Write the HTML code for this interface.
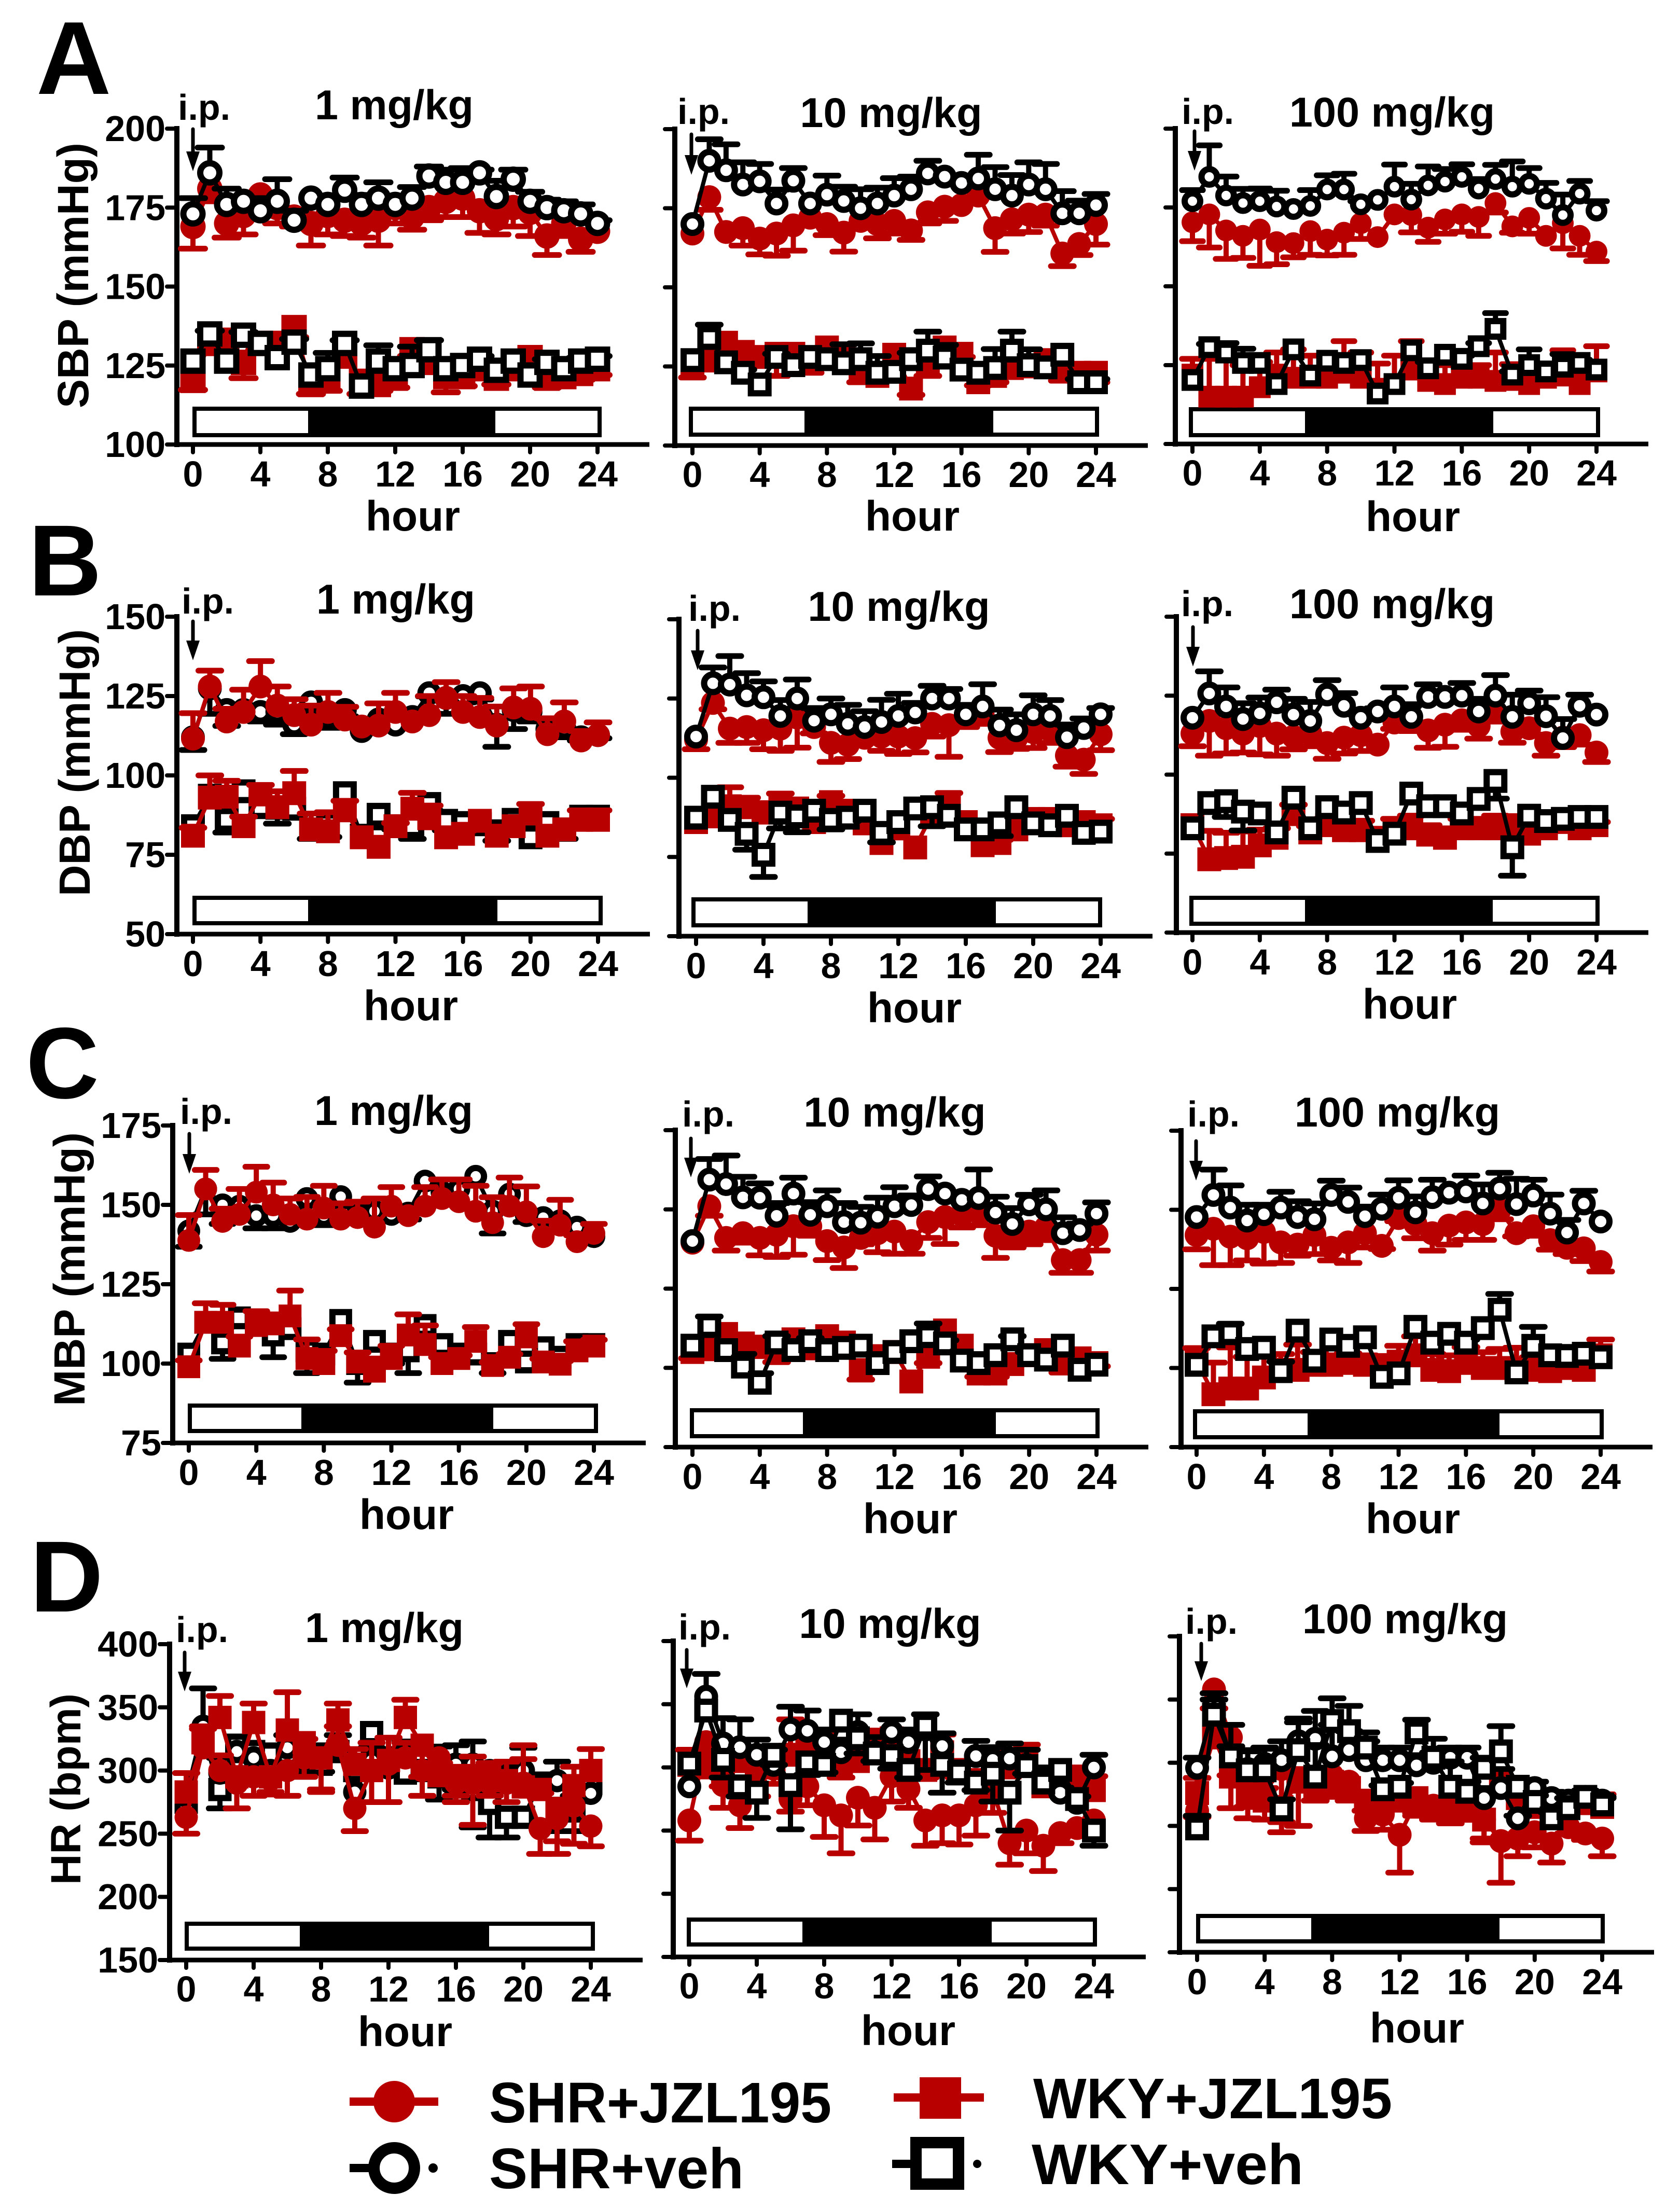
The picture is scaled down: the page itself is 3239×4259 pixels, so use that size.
<!DOCTYPE html>
<html lang="en">
<head>
<meta charset="utf-8">
<title>Blood pressure and heart rate after i.p. JZL195</title>
<style>
html,body{margin:0;padding:0;background:#fff;}
svg{display:block;}
text{font-family:"Liberation Sans",Arial,sans-serif;font-weight:bold;fill:#000;}
</style>
</head>
<body>
<svg id="figure" xmlns="http://www.w3.org/2000/svg" width="3239" height="4259" viewBox="0 0 3239 4259">
<rect x="0" y="0" width="3239" height="4259" fill="#fff"/>
<text x="70" y="181" font-size="200">A</text>
<text x="55" y="1148" font-size="195">B</text>
<text x="50" y="2117" font-size="195">C</text>
<text x="58" y="3107" font-size="195">D</text>
<text transform="translate(170,787) rotate(-90)" font-size="84" textLength="512" lengthAdjust="spacingAndGlyphs">SBP (mmHg)</text>
<text transform="translate(173,1728) rotate(-90)" font-size="84" textLength="515" lengthAdjust="spacingAndGlyphs">DBP (mmHg)</text>
<text transform="translate(163,2711) rotate(-90)" font-size="84" textLength="528" lengthAdjust="spacingAndGlyphs">MBP (mmHg)</text>
<text transform="translate(155,3634) rotate(-90)" font-size="82" textLength="369" lengthAdjust="spacingAndGlyphs">HR (bpm)</text>

<g>
  <g>
    <rect x="674" y="4044" width="171" height="16" fill="#b90000"/>
    <circle cx="760" cy="4052" r="40" fill="#b90000"/>
    <text x="943" y="4092" font-size="110" textLength="660" lengthAdjust="spacingAndGlyphs">SHR+JZL195</text>
  </g>
  <g>
    <rect x="674" y="4172" width="50" height="16" fill="#000"/>
    <circle cx="760" cy="4180" r="39" fill="#fff" stroke="#000" stroke-width="22"/>
    <circle cx="835" cy="4180" r="9" fill="#000"/>
    <text x="943" y="4219" font-size="110" textLength="491" lengthAdjust="spacingAndGlyphs">SHR+veh</text>
  </g>
  <g>
    <rect x="1723" y="4036" width="174" height="16" fill="#b90000"/>
    <rect x="1773" y="4005" width="80" height="80" fill="#b90000"/>
    <text x="1992" y="4084" font-size="110" textLength="692" lengthAdjust="spacingAndGlyphs">WKY+JZL195</text>
  </g>
  <g>
    <rect x="1720" y="4164" width="40" height="16" fill="#000"/>
    <rect x="1766" y="4131" width="82" height="80" fill="#fff" stroke="#000" stroke-width="22"/>
    <circle cx="1884" cy="4172" r="8" fill="#000"/>
    <text x="1989" y="4211" font-size="110" textLength="524" lengthAdjust="spacingAndGlyphs">WKY+veh</text>
  </g>
</g>
<g id="panels"></g>
</svg>

<script>
// ---- shared categories and tick labels ----
const hours = [0,1,2,3,4,5,6,7,8,9,10,11,12,13,14,15,16,17,18,19,20,21,22,23,24];
const hourTicks = [0,4,8,12,16,20,24];
const sbpTicks = [100,125,150,175,200];
const dbpTicks = [50,75,100,125,150];
const mbpTicks = [75,100,125,150,175];
const hrTicks = [150,200,250,300,350,400];
const lightOffHours = [7,18];

// ---- SBP 1 mg/kg (error values are signed: + up, - down) ----
const sbp1ShrJ = [169,181,170,172.5,179,175,172,170,172.5,171,170,171,175,172,175,177,178,174,171.5,175,173.5,166,170,165,167.5];
const sbp1ShrJErr = [-7,-4,-4.5,-6,-5,-5,-3,-7,-6,-5,-4.5,-8,-5,-4,-4,-5,-6,-7,-5,-6,-7.5,-6,-4,-4,0];
const sbp1WkyJ = [120.3,132,133,126,132,132,137,119,121,128,120,119,121,130,126,121.5,121.5,124,121,124,127.5,121,121.5,122.5,124];
const sbp1WkyJErr = [-3,0,0,-5,-2,-2,-3,-3,-4,0,-4,-2,-3,-2,-2,-5,-3,-1,-2,-2,-3,-3,-2,-2,-2];
const sbp1ShrV = [173,186,176,177,174,177,171,178,176,180.5,176,178,176,178,185,183,183,186,178.5,184,177,175,174,173,170];
const sbp1ShrVErr = [5,8,5,0,4,7,3,0,2.5,4,3,5,2,3.5,3,4,4.5,1,5,3,3,2.5,3,3,1];
const sbp1WkyV = [126.4,135,126.4,134.6,132,127.5,132.4,122,124,132,118.5,126.4,124,125,130,124,125,127,123.5,126.4,122,126,124,126.4,127];
const sbp1WkyVErr = [0,1,0,1,0,2,1,0,5,1,0,5,2,6,3,0,0,1,0,0,0,1,0,1,1];

// ---- SBP 10 mg/kg ----
const sbp10ShrJ = [167,178.5,167.5,168.7,165.4,167,169.6,172,170,167.3,171,170,171,168,173.7,175.5,176,179,168.7,171.5,173,173,160.7,163.7,170];
const sbp10ShrJErr = [0,-4,0,-5.5,-5,-7,-8,-2,-3.5,-6,0,-4.5,-4,-3,-3.5,-4.5,0,0,-7.5,-4.5,-5.5,-3.5,-4,-3.5,-6.5];
const sbp10WkyJ = [124.5,127,132.5,129.6,128,129,129,126,131,128.7,123,122,128.7,118,126,131,129,120,122,124.5,125,127,123.5,123,123];
const sbp10WkyJErr = [-3,-3,0,0,-2,-7,0,-3,0,0,-3,0,0,-2,-4,0,-1,-1,-2,-2,-1,0,-3,-1,-3];
const sbp10ShrV = [170,190,187,182.5,183.5,176.5,183.7,176.5,179.3,177.3,175,176.5,179,181,186,185,183,184.4,181,179,182.5,181,173.4,173.4,176];
const sbp10ShrVErr = [0,6.8,8.2,7,5.5,4.4,4,0,6,4.5,6,5,5.5,4,4,0,0,7.5,7,6.5,7,8,7,4,3.5];
const sbp10WkyV = [127,134,126.3,123,119.3,128,125.4,128,127.3,126,127.3,123,123.3,127.3,130,127.8,124,123,124.5,130,125.4,124.7,128.7,120,120];
const sbp10WkyVErr = [0,4.2,0,1,0,1,0,0,0,6,5,5.3,0,2,6,4,2,0,6,6,5,0,0,1,1];

// ---- SBP 100 mg/kg ----
const sbp100ShrJ = [170.3,172.8,167.7,166,168,164,163.7,167.5,164.8,167,170,165.6,172.8,172.6,168.6,171.2,172.8,172,176.4,169,171.7,166,170,166,161];
const sbp100ShrJErr = [-6,-10.5,-9,-7,-11.5,-7,-4.5,-7.5,-5,-7,-5,0,0,-5.5,-4.5,-4.5,-5.5,-6,-3,-2,-5,0,-8,-6,-3];
const sbp100WkyJ = [122,115,115,115,118,122,121,121,121,122.6,121,117.5,119,123.6,120,119,121,121,120,120.3,119,121,121.7,119,123];
const sbp100WkyJErr = [5,12,12,10,8,7,9,7,7,10,8,8,9,9,6,6,7,4,9,5,3,3,8,5,8];
const sbp100ShrV = [177,184.7,178.8,176.4,177,175.3,174.5,175.5,180.7,180.7,176,177.4,181.6,177.5,182,183.2,184.7,181,184,181.6,182.5,177.8,172.6,179.4,174];
const sbp100ShrVErr = [3.5,10,6,4.5,4,5,0,5,4.5,5,1,0,7,5,6,4,4,3,4.5,8,5,5,6.5,4,3];
const sbp100WkyV = [120.3,130.7,129,125.7,125.7,119,130,121.7,126.4,125.7,126.6,116,119,129.7,124,128.3,127,131,136.5,122,125,123,124.5,125.7,123.6];
const sbp100WkyVErr = [0,1,3,4.5,0,0,0,0,0,0,0,0,0,0,2,0,1,1,5,1,5,1,4,1,0];

// ---- DBP 1 mg/kg ----
const dbp1ShrJ = [111.6,128,117,120,128,122,119,116,120,117.6,115.4,115.7,120,117,119,124.4,120,118.4,115.7,121.4,121,113,117,111,112.7];
const dbp1ShrJErr = [8,5,4,7,8,6,5,6,6,4,0,7,6,0,6,5,5,6,6,6,7,5,6,3,4];
const dbp1WkyJ = [81,93,93.3,84,94,90,94.4,83,82.4,89,80.5,77.5,84,89.5,86.5,80.5,81.6,85.7,81,84,88,81,83,86,86];
const dbp1WkyJErr = [2.5,7,5,3,3,5,7,5,6,3,0,0,1,5,4,0,1,0,0,0,3,0,0,3,3];
const dbp1ShrV = [112,127.4,120.6,120.6,120,120,116,123,119,120.6,114,117.6,116,118.4,125.9,124.4,125,125.9,116,120.6,120,114.6,115,112,112.7];
const dbp1ShrVErr = [-4,-8,-5,0,-3,-4,-3,-3,-4,-2,0,-3,0,-1,-1,-5,-2,-2,-7,-6,-3,0,-3,-1,-1];
const dbp1WkyV = [84,93.6,86,95,90,89.8,89.5,83,84.6,94.4,81,87.6,84,84,91,85.7,85,84.6,82.4,86,80.5,85,83,87,87];
const dbp1WkyVErr = [0,0,-4,-2,0,-5,-2,-3,-4,0,0,-4,-1,-4,-2,-3,0,0,-3,0,0,0,-3,0,0];

// ---- DBP 10 mg/kg ----
const dbp10ShrJ = [112,123.6,115.5,116,115,115.5,119,116,111,110.4,112.6,113,113,112.5,117,116.6,120,120,112.6,112.6,114.4,115,107,105.7,113.7];
const dbp10ShrJErr = [-3,-2,-4.5,-5,-6,-7,-9.5,-2,-6,-4.5,0,-4.5,-5.5,-4.5,-4,-10,-4,-3,-4.5,-3.5,-5,-4,-3.5,-4.5,-5];
const dbp10WkyJ = [86,87.8,91,90.7,89,92,90.3,86,92.3,89.6,85.6,79.4,84,78,88.5,92.2,86,78.7,79.4,83.7,87,87,85,86,85];
const dbp10WkyJErr = [0,0,6,3,3,3,0,0,2,2,0,0,0,0,0,3,0,0,1,0,0,2,1,0,2];
const dbp10ShrV = [113,129.8,129.4,126,125.4,119.5,125,118,120,117,116,117.6,119.5,120.6,125,125,120,122.5,116.5,115,120,119.5,112.8,115.7,120];
const dbp10ShrVErr = [0,5,9,7,5,5,6,4,5,6,5,7,7,3,4,3,3,7,5,5,6,5,4,3,2];
const dbp10WkyV = [87.4,94,86.7,82.3,75.7,89,87.8,89.6,86.7,87.4,89.6,82.6,86,90.3,90.7,88,83.7,83.7,85.6,90.7,85.6,85,88,82.6,83];
const dbp10WkyVErr = [0,0,0,-5,-7,-5,-5,0,-3,-1,0,-3,0,0,-6,0,0,0,-4,0,0,0,0,0,0];

// ---- DBP 100 mg/kg ----
const dbp100ShrJ = [113,117,114.7,113,115.4,113,112,113,110,111.7,112.5,109.5,116.5,116.8,114,115.8,117.2,115.4,119.8,113.6,114.7,110,111.7,112.5,107];
const dbp100ShrJErr = [-4,-11,-8,-6,-9,-7,-4,-4,-5,-5,-5,0,-2,-3,-5.5,-7,-3,-4,-3,-3.5,-2,-4,-3,-3,-3];
const dbp100WkyJ = [84,73.2,73.6,74,77.6,80,87.5,81.7,84,82.4,82.4,80,83,83,81,80,83,83,83,84,81.3,83,85,83,84];
const dbp100WkyJErr = [0,9,8,8,5,3,3,2,2,2,3,2,3,4,3,3,3,3,4,2,1,1,1,1,1];
const dbp100ShrV = [118,125.7,121.6,117.6,119.4,122.9,119,117,125.4,121.8,118,120,121.6,118.3,124.6,124.6,125,120,125,118.3,122.6,118.5,111.6,121.8,119];
const dbp100ShrVErr = [0,7,6,5,5,4,5,6,4.5,4,1,1,6,4,4,1,4,4,6.5,7,4,6,6,3.5,0];
const dbp100WkyV = [83,91,91.6,88.3,87.7,81.7,92.7,83,89.7,88,91,79,81.3,94,90,90,87.7,92.3,98,77,87,85.3,86,86.6,86.6];
const dbp100WkyVErr = [0,0,-5,-6,0,0,0,0,0,0,0,0,0,0,0,0,0,0,-5.6,-9,0,0,0,0,0];

// ---- MBP 1 mg/kg ----
const mbp1ShrJ = [138.8,155,144.8,147,154,150,147,145.5,149,145.5,146,143,149.6,146.6,149.6,152,151,148,144.4,149.6,147.8,140,143.6,138.4,141];
const mbp1ShrJErr = [8,6,4,8,8,7,5,7,7,5,5,9,6,2,6,6,7,8,8,9,8,5,8,2,3];
const mbp1WkyJ = [99,113,113,105.5,112,112.5,115,101.6,100,108.8,100.5,97.6,101.6,109,106,100,101.6,107,99.4,102,108.4,100.5,99.8,104,105.5];
const mbp1WkyJErr = [2,6,5.5,3,4.5,3,8,6,4,2,3,4,4,6.5,6,2,1,4.5,1,1,4,1,1,3,2];
const mbp1ShrV = [141.8,155,150,149.6,146.6,146.6,144.8,152,146.6,152.6,147.4,148,147,147.4,157.5,154,155,159,148,153.4,146.6,146,145,143,140];
const mbp1ShrVErr = [-5,-8,-6,-1,-4,-4,0,-5,-3,-3,-3,-1,0,-2,0,0,0,0,-7,0,-2,0,-3,0,0];
const mbp1WkyV = [103,113,106.5,114.4,112,109,111,104,103,113.6,100,107,103,104,112,106,103,103,100,107,100.5,105,102,106,106];
const mbp1WkyVErr = [0,0,-5,0,0,-7,0,-7,0,0,-6,0,-3,-7,0,0,-2,0,-3,0,0,0,0,0,0];

// ---- MBP 10 mg/kg ----
const mbp10ShrJ = [139.5,151,141,142.5,141,142,144.7,144.7,140,138,141,142.5,143,140,146,147.6,148.3,149,141.7,141,143,144.3,134,134,142];
const mbp10ShrJErr = [0,-3,-4,-3,-5.5,-7,-9,-3,-6,-6.5,-2,-6,-7,-4,-5,-8.5,-4,-4,-7,-3,-4,-4,-4,-4,-5];
const mbp10WkyJ = [105,106,110.7,107.7,106.7,104.8,109,106.3,110,108,99.3,103.7,105,95.7,103.5,111.8,107,98.2,98.2,101.2,104,105.6,101.5,103,101.5];
const mbp10WkyJErr = [-2,-3,0,0,-3,-3,0,-3,0,-2,-3,0,0,0,-2,0,0,-1,-1,0,0,0,-3,-1,-1];
const mbp10ShrV = [140,159.4,158,153.8,153.7,148,155,148.3,151,146,145.8,147.7,151,151.4,156.4,155,153,153.6,149,145.4,151.6,150,142.5,143.5,148.7];
const mbp10ShrVErr = [0,6.5,9,6.5,4.5,4,5,4,5,6,5,6,6,3,4,0,0,9,5,5,3,6,5,2,3.5];
const mbp10WkyV = [107,113.2,105.6,100.4,95.3,108,105.6,108.4,105.6,106.3,107,101.5,105,108.4,110,107.7,102.3,101.5,104,109,104,102.6,107,99.4,101];
const mbp10WkyVErr = [0,3,0,4,3,2,0,1,0,2,0,0,0,0,4,1,0,0,0,1,1,0,0,0,0];

// ---- MBP 100 mg/kg ----
const mbp100ShrJ = [142,144,141.5,141,143,139.7,139,142,138,139.7,142.6,138.6,147.4,145.5,142.6,145,146,145.5,150,142.6,144.8,140.4,138,137.8,133.5];
const mbp100ShrJErr = [-4.5,-11.5,-9,-7,-10,-6.5,-3.5,-6,-4,-6.5,-4.5,-1,-1,-4.5,-5.5,-6,-5.5,-5,-3,-1,-3,-3,-2,-4,-3];
const mbp100WkyJ = [102.3,91.7,93.5,93.5,97,99.4,99.4,101,101,101.6,101,100.8,102,104,99.4,99,101.6,100,100,99.4,99.4,99,100,99.4,104];
const mbp100WkyJErr = [4,10,13,10,7,5,8,4,3,3,3,3,5,6,5,5,5,5,6,7,4,3,6,4,5];
const mbp100ShrV = [147.7,154.7,150.7,146.6,148.6,150.7,147.7,147,154.7,152.5,148,150.3,153.8,149.2,154,155.4,155.8,152,156.7,151.8,154.5,148.8,142.8,152,146.3];
const mbp100ShrVErr = [0,8,7,5,3,5,5,5,4.5,4.5,3,4.5,5.5,5,5.5,1,5,6,5,8,5,6,4,4,0];
const mbp100WkyV = [101,110,111,106,106.4,99,111.8,102.3,109,107,109.7,97.2,98.3,113,108,110.8,108,112.6,118.4,98.6,107,104,103.8,104.5,103.4];
const mbp100WkyVErr = [0,0,3,2,0,3,0,0,0,0,0,0,0,0,0,0,1,0,5,0,6,0,0,0,0];

// ---- HR 1 mg/kg ----
const hr1ShrJ = [263,318,300,290,295,293,300,310,310,320,270,300,305,310,300,310,290,290,290,290,290,254,262,272,256];
const hr1ShrJErr = [-13,15,12,-20,-15,-12,-20,15,-25,15,-18,-25,-30,12,-20,-15,-15,-33,-10,-15,30,-20,-28,-30,-16];
const hr1WkyJ = [283,322,342,295,338,295,332,322,310,340,305,300,308,342,320,296,296,296,296,292,287,285,270,288,300];
const hr1WkyJErr = [15,13,17,-25,15,-12,30,-27,-27,13,12,22,18,14,-25,10,-16,15,10,15,22,-3,-26,15,17];
const hr1ShrV = [280,335,298,315,310,300,318,305,312,318,283,308,302,315,300,297,305,305,300,295,300,288,292,275,282];
const hr1ShrVErr = [0,30,12,0,-8,-5,10,20,8,10,0,10,8,8,5,22,15,18,5,10,18,8,15,5,0];
const hr1WkyV = [275,327,285,320,315,313,313,302,305,315,300,330,310,298,300,295,290,285,274,263,263,290,270,268,290];
const hr1WkyVErr = [0,0,-15,0,0,-5,-8,0,-6,0,0,0,0,0,-5,-18,-5,-30,-27,-16,0,-5,-18,-16,0];

// ---- HR 10 mg/kg ----
const hr10ShrJ = [258,320,286,270,285,299,275,285,270,262,276,268,293,283,258,262,262,270,282,240,250,238,248,252,258];
const hr10ShrJErr = [-16,-10,-18,-18,-8,-12,-10,-15,-25,-30,-22,-25,-20,-15,-20,-22,-23,-24,-18,-17,-18,-20,-8,-5,0];
const hr10WkyJ = [302,300,295,305,300,300,310,322,320,300,305,322,323,305,298,312,298,290,290,300,310,285,285,292,282];
const hr10WkyJErr = [12,12,-10,10,12,14,28,5,-8,-8,6,-6,4,-6,-6,14,-6,-8,-12,14,8,12,-6,8,11];
const hr10ShrV = [285,356,319,316,310,302,330,329,320,312,328,312,328,320,330,317,296,309,306,307,302,292,280,272,300];
const hr10ShrVErr = [0,18,20,22,12,12,18,16,10,10,14,12,10,10,12,10,8,12,10,12,12,8,4,5,10];
const hr10WkyV = [303,345,306,285,280,310,286,304,302,337,323,311,309,298,333,302,296,288,295,280,301,288,298,275,250];
const hr10WkyVErr = [0,0,-14,-8,-20,-8,-35,-10,-6,0,-12,-6,-10,-6,-35,-22,-8,-6,-22,-30,-6,0,0,0,-12];

// ---- HR 100 mg/kg ----
const hr100ShrJ = [262,358,320,285,290,295,285,285,290,285,256,259,243,270,266,270,265,255,238,240,245,236,249,244,240];
const hr100ShrJErr = [-5,-15,-30,-20,-10,-50,-35,-15,-15,-12,-10,-12,-30,-12,-10,-12,-10,-18,-33,-14,-12,-15,-5,-5,-14];
const hr100WkyJ = [276,320,289,276,270,265,285,280,285,280,270,268,270,272,265,260,262,255,285,272,265,262,265,268,265];
const hr100WkyJErr = [12,0,-25,-20,-15,-12,10,-10,-12,-10,-8,-5,5,-12,-10,-8,-5,-15,-8,0,-5,-3,-3,5,10];
const hr100ShrV = [296,345,305,295,299,302,317,319,305,310,302,302,302,298,300,304,304,272,280,256,280,272,270,273,270];
const hr100ShrVErr = [8,10,8,15,12,15,18,22,25,15,15,10,10,8,8,8,8,8,15,2,5,5,5,3,3];
const hr100WkyV = [248,338,305,294,294,263,310,289,333,325,312,279,281,324,304,281,277,296,309,281,269,256,264,273,267];
const hr100WkyVErr = [10,12,25,15,18,8,22,25,18,20,12,3,3,10,15,20,8,8,20,5,5,5,8,5,5];

// ---- layout (pixel geometry of each panel, separate from the data) ----
const redFirst = ['wkyJ','shrJ','shrV','wkyV'];
const blackFirst = ['wkyV','shrV','shrJ','wkyJ'];
const layouts = [
 {id:'sbp-1',dose:'1 mg/kg',ticks:sbpTicks,labels:true,spine:341,x0:372,x24:1152,top:248,bot:857,titleX:760,titleY:230,ipX:343,ipY:231,arrowX:372,arrowY:[249,330],bar:[371,1160,784,843],dark:[594,955],hourX:796,hourY:1023,tickY:938,m:49,order:redFirst,
  d:{shrJ:[sbp1ShrJ,sbp1ShrJErr],wkyJ:[sbp1WkyJ,sbp1WkyJErr],shrV:[sbp1ShrV,sbp1ShrVErr],wkyV:[sbp1WkyV,sbp1WkyVErr]}},
 {id:'sbp-10',dose:'10 mg/kg',ticks:sbpTicks,labels:false,spine:1301,x0:1335,x24:2113,top:249,bot:859,titleX:1718,titleY:245,ipX:1306,ipY:239,arrowX:1333,arrowY:[259,337],bar:[1328,2119,784,842],dark:[1551,1915],hourX:1759,hourY:1023,tickY:939,m:46,order:redFirst,
  d:{shrJ:[sbp10ShrJ,sbp10ShrJErr],wkyJ:[sbp10WkyJ,sbp10WkyJErr],shrV:[sbp10ShrV,sbp10ShrVErr],wkyV:[sbp10WkyV,sbp10WkyVErr]}},
 {id:'sbp-100',dose:'100 mg/kg',ticks:sbpTicks,labels:false,spine:2266,x0:2299,x24:3078,top:248,bot:856,titleX:2684,titleY:244,ipX:2278,ipY:239,arrowX:2303,arrowY:[253,329],bar:[2292,3085,785,843],dark:[2516,2879],hourX:2724,hourY:1024,tickY:936,m:42,order:redFirst,
  d:{shrJ:[sbp100ShrJ,sbp100ShrJErr],wkyJ:[sbp100WkyJ,sbp100WkyJErr],shrV:[sbp100ShrV,sbp100ShrVErr],wkyV:[sbp100WkyV,sbp100WkyVErr]}},
 {id:'dbp-1',dose:'1 mg/kg',ticks:dbpTicks,labels:true,spine:341,x0:372,x24:1153,top:1189,bot:1801,titleX:763,titleY:1183,ipX:350,ipY:1183,arrowX:372,arrowY:[1198,1273],bar:[371,1162,1727,1784],dark:[594,959],hourX:792,hourY:1967,tickY:1882,m:46,order:blackFirst,
  d:{shrJ:[dbp1ShrJ,dbp1ShrJErr],wkyJ:[dbp1WkyJ,dbp1WkyJErr],shrV:[dbp1ShrV,dbp1ShrVErr],wkyV:[dbp1WkyV,dbp1WkyVErr]}},
 {id:'dbp-10',dose:'10 mg/kg',ticks:dbpTicks,labels:false,spine:1309,x0:1342,x24:2122,top:1194,bot:1805,titleX:1733,titleY:1197,ipX:1327,ipY:1197,arrowX:1345,arrowY:[1216,1292],bar:[1333,2125,1730,1788],dark:[1557,1920],hourX:1763,hourY:1971,tickY:1886,m:46,order:redFirst,
  d:{shrJ:[dbp10ShrJ,dbp10ShrJErr],wkyJ:[dbp10WkyJ,dbp10WkyJErr],shrV:[dbp10ShrV,dbp10ShrVErr],wkyV:[dbp10WkyV,dbp10WkyVErr]}},
 {id:'dbp-100',dose:'100 mg/kg',ticks:dbpTicks,labels:false,spine:2268,x0:2299,x24:3078,top:1189,bot:1798,titleX:2684,titleY:1192,ipX:2277,ipY:1188,arrowX:2300,arrowY:[1209,1285],bar:[2293,3084,1727,1785],dark:[2516,2878],hourX:2718,hourY:1964,tickY:1879,m:46,order:redFirst,
  d:{shrJ:[dbp100ShrJ,dbp100ShrJErr],wkyJ:[dbp100WkyJ,dbp100WkyJErr],shrV:[dbp100ShrV,dbp100ShrVErr],wkyV:[dbp100WkyV,dbp100WkyVErr]}},
 {id:'mbp-1',dose:'1 mg/kg',ticks:mbpTicks,labels:true,spine:333,x0:364,x24:1145,top:2170,bot:2782,titleX:759,titleY:2169,ipX:347,ipY:2167,arrowX:365,arrowY:[2186,2263],bar:[362,1153,2706,2763],dark:[581,951],hourX:784,hourY:2948,tickY:2863,m:44,order:blackFirst,
  d:{shrJ:[mbp1ShrJ,mbp1ShrJErr],wkyJ:[mbp1WkyJ,mbp1WkyJErr],shrV:[mbp1ShrV,mbp1ShrVErr],wkyV:[mbp1WkyV,mbp1WkyVErr]}},
 {id:'mbp-10',dose:'10 mg/kg',ticks:mbpTicks,labels:false,spine:1302,x0:1335,x24:2114,top:2179,bot:2790,titleX:1725,titleY:2172,ipX:1315,ipY:2172,arrowX:1332,arrowY:[2195,2270],bar:[1330,2120,2715,2773],dark:[1548,1920],hourX:1755,hourY:2956,tickY:2871,m:46,order:redFirst,
  d:{shrJ:[mbp10ShrJ,mbp10ShrJErr],wkyJ:[mbp10WkyJ,mbp10WkyJErr],shrV:[mbp10ShrV,mbp10ShrVErr],wkyV:[mbp10WkyV,mbp10WkyVErr]}},
 {id:'mbp-100',dose:'100 mg/kg',ticks:mbpTicks,labels:false,spine:2277,x0:2307,x24:3086,top:2180,bot:2790,titleX:2694,titleY:2172,ipX:2289,ipY:2172,arrowX:2306,arrowY:[2200,2276],bar:[2300,3092,2717,2775],dark:[2521,2891],hourX:2724,hourY:2956,tickY:2871,m:46,order:redFirst,
  d:{shrJ:[mbp100ShrJ,mbp100ShrJErr],wkyJ:[mbp100WkyJ,mbp100WkyJErr],shrV:[mbp100ShrV,mbp100ShrVErr],wkyV:[mbp100WkyV,mbp100WkyVErr]}},
 {id:'hr-1',dose:'1 mg/kg',ticks:hrTicks,labels:true,spine:327,x0:359,x24:1139,top:3170,bot:3779,titleX:741,titleY:3166,ipX:339,ipY:3166,arrowX:356,arrowY:[3186,3261],bar:[356,1147,3705,3761],dark:[578,943],hourX:781,hourY:3945,tickY:3859,m:45,order:blackFirst,
  d:{shrJ:[hr1ShrJ,hr1ShrJErr],wkyJ:[hr1WkyJ,hr1WkyJErr],shrV:[hr1ShrV,hr1ShrVErr],wkyV:[hr1WkyV,hr1WkyVErr]}},
 {id:'hr-10',dose:'10 mg/kg',ticks:hrTicks,labels:false,spine:1298,x0:1329,x24:2109,top:3164,bot:3773,titleX:1716,titleY:3158,ipX:1308,ipY:3161,arrowX:1324,arrowY:[3181,3255],bar:[1324,2115,3697,3753],dark:[1547,1912],hourX:1751,hourY:3943,tickY:3853,m:46,order:redFirst,
  d:{shrJ:[hr10ShrJ,hr10ShrJErr],wkyJ:[hr10WkyJ,hr10WkyJErr],shrV:[hr10ShrV,hr10ShrVErr],wkyV:[hr10WkyV,hr10WkyVErr]}},
 {id:'hr-100',dose:'100 mg/kg',ticks:hrTicks,labels:false,spine:2274,x0:2308,x24:3089,top:3155,bot:3764,titleX:2709,titleY:3149,ipX:2285,ipY:3150,arrowX:2316,arrowY:[3169,3241],bar:[2306,3094,3690,3747],dark:[2528,2891],hourX:2732,hourY:3938,tickY:3845,m:46,order:redFirst,
  d:{shrJ:[hr100ShrJ,hr100ShrJErr],wkyJ:[hr100WkyJ,hr100WkyJErr],shrV:[hr100ShrV,hr100ShrVErr],wkyV:[hr100WkyV,hr100WkyVErr]}}
];

const RED = '#b90000';
const MARK_STROKE = 12;
const seriesStyle = {
  shrJ:{color:RED,shape:'circle',filled:true,label:'shr-jzl195'},
  wkyJ:{color:RED,shape:'square',filled:true,label:'wky-jzl195'},
  shrV:{color:'#000',shape:'circle',filled:false,label:'shr-veh'},
  wkyV:{color:'#000',shape:'square',filled:false,label:'wky-veh'}
};

const NS = 'http://www.w3.org/2000/svg';
function svgEl(tag, attrs, parent, text) {
  const el = document.createElementNS(NS, tag);
  for (const k in attrs) el.setAttribute(k, attrs[k]);
  if (text !== undefined) el.textContent = text;
  parent.appendChild(el);
  return el;
}

const root = document.getElementById('panels');

layouts.forEach(function (p) {
  const minV = p.ticks[0];
  const maxV = p.ticks[p.ticks.length - 1];
  const xScale = function (h) { return p.x0 + (h / 24) * (p.x24 - p.x0); };
  const yScale = function (v) { return p.bot - (v - minV) / (maxV - minV) * (p.bot - p.top); };
  const hourToBar = function (h) { return h === lightOffHours[0] ? p.dark[0] : p.dark[1]; };

  const g = svgEl('g', {}, root);
  
  

  // light/dark bar
  const barOuter = svgEl('rect', {x:p.bar[0]+4,y:p.bar[2]+4,width:p.bar[1]-p.bar[0]-8,height:p.bar[3]-p.bar[2]-8,fill:'#fff',stroke:'#000','stroke-width':8}, g);
  
  
  const barDark = svgEl('rect', {x:hourToBar(7),y:p.bar[2],width:hourToBar(18)-hourToBar(7),height:p.bar[3]-p.bar[2],fill:'#000'}, g);
  
  

  // axes
  const yAxis = svgEl('line', {x1:p.spine,x2:p.spine,y1:p.top-5,y2:p.bot+5,stroke:'#000','stroke-width':10}, g);
  
  
  const xAxis = svgEl('line', {x1:p.spine-5,x2:p.x24+100,y1:p.bot,y2:p.bot,stroke:'#000','stroke-width':9}, g);
  
  

  p.ticks.forEach(function (t) {
    const y = yScale(t);
    const tick = svgEl('line', {x1:p.spine-19,x2:p.spine,y1:y,y2:y,stroke:'#000','stroke-width':8,'stroke-linecap':'round'}, g);
    
    
    if (p.labels) {
      const lab = svgEl('text', {x:p.spine-22,y:y+24,'font-size':70,'text-anchor':'end'}, g, String(t));
      
      
    }
  });

  hourTicks.forEach(function (h) {
    const x = xScale(h);
    const tick = svgEl('line', {x1:x,x2:x,y1:p.bot,y2:p.bot+15,stroke:'#000','stroke-width':8,'stroke-linecap':'round'}, g);
    
    
    const lab = svgEl('text', {x:x,y:p.tickY,'font-size':70,'text-anchor':'middle'}, g, String(h));
    
    
  });

  const xTitle = svgEl('text', {x:p.hourX,y:p.hourY,'font-size':82,'text-anchor':'middle'}, g, 'hour');
  
  
  const title = svgEl('text', {x:p.titleX,y:p.titleY,'font-size':81,'text-anchor':'middle'}, g, p.dose);
  
  
  const ip = svgEl('text', {x:p.ipX,y:p.ipY,'font-size':70}, g, 'i.p.');
  
  

  // series
  p.order.forEach(function (key) {
    const st = seriesStyle[key];
    const values = p.d[key][0];
    const errs = p.d[key][1];
    const sg = svgEl('g', {}, g);
    
    

    const pts = hours.map(function (h, i) { return xScale(h).toFixed(1) + ',' + yScale(values[i]).toFixed(1); }).join(' ');
    const line = svgEl('polyline', {points:pts,fill:'none',stroke:st.color,'stroke-width':8,'stroke-linejoin':'round'}, sg);
    
    

    const capHalf = p.m * 0.48;
    hours.forEach(function (h, i) {
      if (!errs[i]) return;
      const x = xScale(h);
      const y0 = yScale(values[i]);
      const y1 = yScale(values[i] + errs[i]);
      const stem = svgEl('line', {x1:x,x2:x,y1:y0,y2:y1,stroke:st.color,'stroke-width':10}, sg);
      
      
      const cap = svgEl('line', {x1:x-capHalf,x2:x+capHalf,y1:y1,y2:y1,stroke:st.color,'stroke-width':11,'stroke-linecap':'round'}, sg);
      
      
    });

    hours.forEach(function (h, i) {
      const x = xScale(h);
      const y = yScale(values[i]);
      const m = p.m;
      let mark;
      if (st.shape === 'circle') {
        if (st.filled) {
          mark = svgEl('circle', {cx:x,cy:y,r:m/2,fill:st.color}, sg);
        } else {
          mark = svgEl('circle', {cx:x,cy:y,r:(m-MARK_STROKE)/2,fill:'#fff',stroke:st.color,'stroke-width':MARK_STROKE}, sg);
        }
      } else if (st.filled) {
        mark = svgEl('rect', {x:x-m/2,y:y-m/2,width:m,height:m,fill:st.color}, sg);
      } else {
        mark = svgEl('rect', {x:x-(m-MARK_STROKE)/2,y:y-(m-MARK_STROKE)/2,width:m-MARK_STROKE,height:m-MARK_STROKE,fill:'#fff',stroke:st.color,'stroke-width':MARK_STROKE}, sg);
      }
      
      
    });
  });

  // injection arrow
  const ax = p.arrowX;
  const shaft = svgEl('line', {x1:ax,x2:ax,y1:p.arrowY[0],y2:p.arrowY[1]-30,stroke:'#000','stroke-width':7,'stroke-linecap':'round'}, g);
  
  
  const head = svgEl('polygon', {points:(ax-13)+','+(p.arrowY[1]-38)+' '+(ax+13)+','+(p.arrowY[1]-38)+' '+ax+','+p.arrowY[1],fill:'#000'}, g);
  
  
});
</script>
</body>
</html>
